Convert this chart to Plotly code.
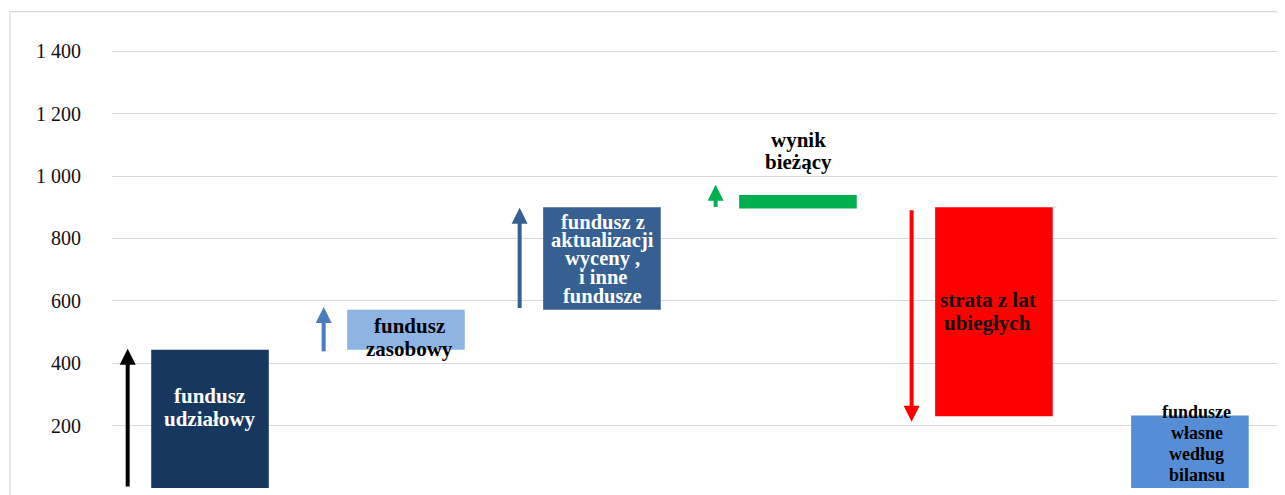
import plotly.graph_objects as go

# ---- data ----
categories = ["fundusz udziałowy", "fundusz zasobowy", "fundusz z aktualizacji wyceny, i inne fundusze",
              "wynik bieżący", "strata z lat ubiegłych", "fundusze własne według bilansu"]
bar_bottom = [0, 443, 571, 896, 230, 0]
bar_top = [443, 571, 900, 939, 900, 232]
bar_colors = ["#17375E", "#8DB4E2", "#366092", "#00B050", "#FF0000", "#558ED5"]

arrow_from = [5, 438, 577, 901, 890]
arrow_to = [446, 580, 898, 972, 212]
arrow_colors = ["#000000", "#4A7EBB", "#366092", "#00B050", "#FF0000"]

label_lines = [
    ["fundusz", "udziałowy"],
    ["fundusz", "zasobowy"],
    ["fundusz z", "aktualizacji", "wyceny ,", "i inne", "fundusze"],
    ["wynik", "bieżący"],
    ["strata z lat", "ubiegłych"],
    ["fundusze", "własne", "według", "bilansu"],
]
label_y = [257, 482, 735, 1080, 567, 143]
label_gap = [23, 23, 18.5, 22, 23, 21]
label_xshift = [0, 4, 1, 1, -6, 7]
label_color = ["#FFFFFF", "#000000", "#FFFFFF", "#000000", "#111111", "#000000"]
label_size = [21, 21, 20.5, 21, 21, 18]

tick_vals = [0, 200, 400, 600, 800, 1000, 1200, 1400]
tick_text = ["", "200", "400", "600", "800", "1 000", "1 200", "1 400"]

FONT = "Liberation Serif, Times New Roman, serif"
x = list(range(len(categories)))

fig = go.Figure()
fig.add_trace(go.Bar(
    x=x,
    y=[t - b for t, b in zip(bar_top, bar_bottom)],
    base=bar_bottom,
    marker=dict(color=bar_colors, line=dict(width=0)),
    width=0.6,
    hoverinfo="skip",
    showlegend=False,
))

ARROW_DX = -0.42
for i, (a0, a1, c) in enumerate(zip(arrow_from, arrow_to, arrow_colors)):
    up = a1 > a0
    head = 30  # value units to stop the shaft under the head
    shaft_end = a1 - head if up else a1 + head
    fig.add_trace(go.Scatter(
        x=[i + ARROW_DX, i + ARROW_DX], y=[a0, shaft_end],
        mode="lines", line=dict(color=c, width=4),
        hoverinfo="skip", showlegend=False, cliponaxis=False,
    ))
    fig.add_trace(go.Scatter(
        x=[i + ARROW_DX], y=[a1], mode="markers",
        marker=dict(symbol="arrow-up" if up else "arrow-down", size=16, color=c,
                    line=dict(width=0)),
        hoverinfo="skip", showlegend=False, cliponaxis=False,
    ))

annotations = []
for i, lines in enumerate(label_lines):
    n = len(lines)
    for k, line in enumerate(lines):
        annotations.append(dict(
            x=i, y=label_y[i], xref="x", yref="y",
            text="<b>" + line + "</b>", showarrow=False,
            xshift=label_xshift[i],
            yshift=((n - 1) / 2 - k) * label_gap[i],
            font=dict(family=FONT, size=label_size[i], color=label_color[i]),
            xanchor="center", yanchor="middle",
        ))

fig.update_layout(
    width=1285, height=495,
    margin=dict(l=104, r=0, t=12, b=15),
    paper_bgcolor="white", plot_bgcolor="white",
    bargap=0.4,
    annotations=annotations,
    shapes=[dict(type="rect", xref="paper", yref="paper",
                 x0=-0.0864, x1=1.2, y0=-0.2, y1=1.018,
                 line=dict(color="#D9D9D9", width=1.2), fillcolor="rgba(0,0,0,0)",
                 layer="below")],
    xaxis=dict(range=[-0.5, 5.526], showticklabels=False, showgrid=False,
               zeroline=False, showline=False, fixedrange=True),
    yaxis=dict(range=[0, 1500], tickvals=tick_vals, ticktext=tick_text,
               showgrid=True, gridcolor="#D9D9D9", gridwidth=1.3,
               zeroline=False, showline=False, ticks="",
               ticklabelstandoff=30,
               tickfont=dict(family=FONT, size=20, color="#111111")),
)

fig.write_html("out.html")
